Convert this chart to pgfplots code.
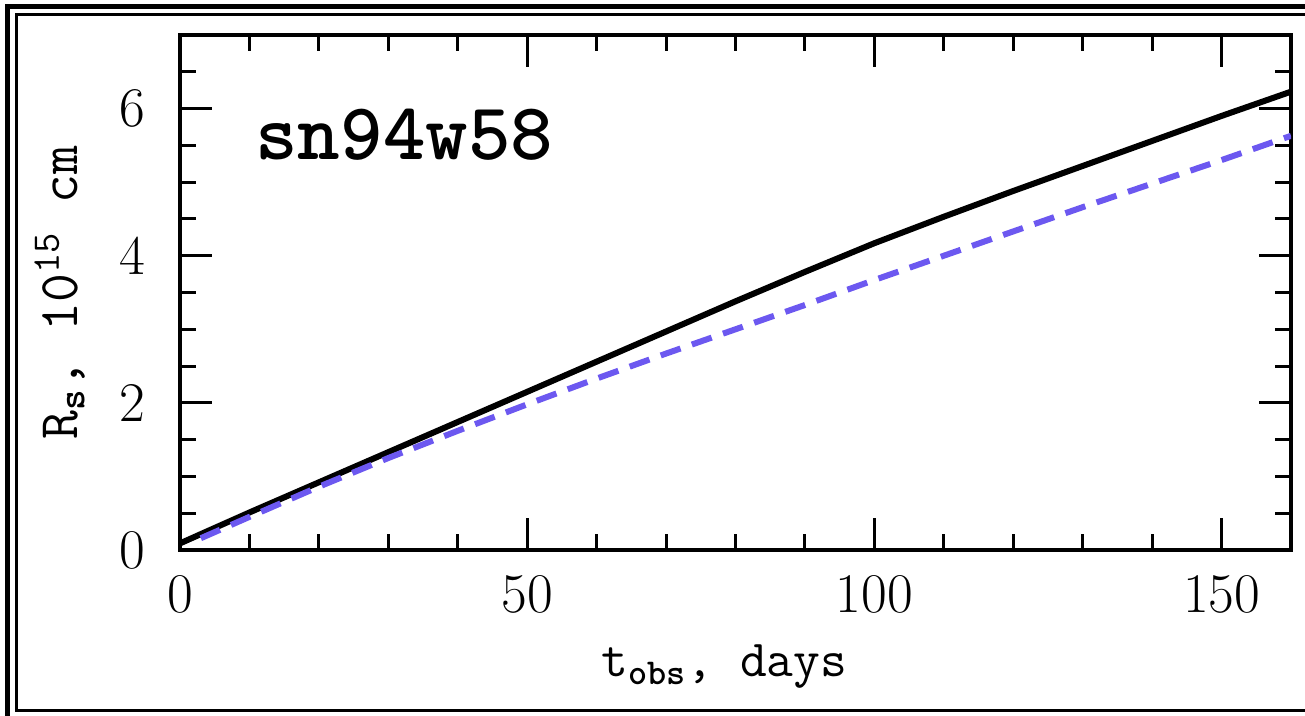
\documentclass[border=0pt]{standalone}
\usepackage{fontspec}
\usepackage{pgfplots}
\pgfplotsset{compat=1.18}
\definecolor{dashblue}{RGB}{108,88,240}
\begin{document}
\begin{tikzpicture}
\useasboundingbox (0,0) rectangle (652.5pt,358pt);
\draw[line width=2.5pt] (3.75pt,-20pt) -- (3.75pt,354.75pt) -- (700pt,354.75pt);
\draw[line width=1.5pt] (700pt,2.5pt) -- (8.25pt,2.5pt) -- (8.25pt,350.75pt) -- (700pt,350.75pt);
\begin{axis}[
  at={(90pt,83pt)}, anchor=south west,
  scale only axis, width=555.5pt, height=257.5pt,
  xmin=0, xmax=160, ymin=0, ymax=7,
  xtick={0,50,100,150}, ytick={0,2,4,6},
  minor xtick={10,20,30,40,60,70,80,90,110,120,130,140},
  minor ytick={0.5,1,1.5,2.5,3,3.5,4.5,5,5.5,6.5},
  major tick length=16pt, minor tick length=8pt,
  every tick/.style={line width=1.5pt, black},
  axis line style={line width=2pt},
  /pgf/number format/assume math mode=true,
  tick label style={font=\fontsize{28}{30}\selectfont},
  xticklabel style={yshift=-9pt},
  yticklabel style={xshift=-14pt},
  xlabel={t\textsubscript{\textbf{obs}}, days},
  ylabel={R\textsubscript{\textbf{s}}, 10\textsuperscript{15} cm},
  every axis x label/.style={at={(axis description cs:0.49,-0.2466)}, anchor=base, font=\ttfamily\fontsize{26}{28}\selectfont},
  every axis y label/.style={at={(axis description cs:-0.0927,0.5)}, rotate=90, anchor=base, font=\ttfamily\fontsize{28}{30}\selectfont},
]
\addplot[black, line width=3pt, line join=round] coordinates {
(0,0.09) (10,0.51) (20,0.92) (30,1.33) (40,1.74) (50,2.15) (60,2.56) (70,2.97) (80,3.38) (90,3.78) (100,4.17) (110,4.53) (120,4.88) (130,5.22) (140,5.56) (150,5.90) (160,6.23)
};
\addplot[dashblue, line width=3pt, dash pattern=on 10.5pt off 6pt] coordinates {
(3,0.16) (10,0.45) (20,0.86) (30,1.25) (40,1.62) (50,1.98) (60,2.33) (70,2.67) (80,3.00) (90,3.33) (100,3.67) (110,4.00) (120,4.33) (130,4.66) (140,4.98) (150,5.30) (160,5.63)
};
\node[font=\ttfamily\bfseries\fontsize{40.5}{43}\selectfont] at (axis cs:32.3,5.65) {sn94w58};
\end{axis}
\end{tikzpicture}
\end{document}
